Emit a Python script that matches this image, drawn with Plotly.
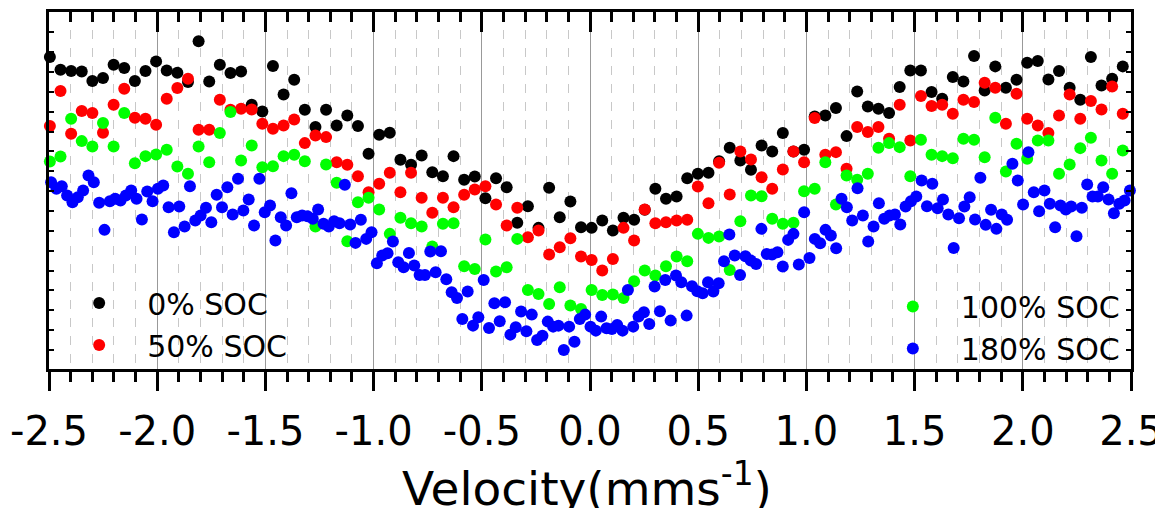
import numpy as np
import plotly.graph_objects as go

# ---- data (relative transmission, arbitrary units) ----
SOC0 = [965, 1060, 1022, 1018, 1017, 988, 997, 1037, 1027, 988,
        1018, 1047, 1020, 1013, 985, 1107, 987, 1037, 1012, 1017,
        917, 897, 1033, 948, 992, 902, 850, 902, 855, 885,
        853, 770, 827, 833, 752, 737, 765, 715, 703, 763,
        692, 702, 637, 697, 670, 563, 613, 548, 668, 580,
        627, 550, 548, 570, 540, 578, 572, 602, 665, 635,
        642, 697, 710, 713, 748, 788, 750, 722, 795, 777,
        832, 777, 782, 882, 885, 907, 823, 957, 912, 905,
        892, 970, 1020, 1020, 955, 935, 1000, 987, 1063, 960,
        1032, 968, 992, 1043, 1048, 993, 1018, 968, 932, 1060,
        975, 995, 1032, 968]

SOC50 = [948, 853, 958, 830, 898, 892, 833, 917, 965, 878,
         875, 857, 935, 967, 995, 842, 842, 932, 902, 905,
         903, 860, 845, 855, 873, 802, 825, 820, 745, 737,
         703, 655, 680, 713, 655, 713, 638, 593, 638, 610,
         647, 663, 673, 618, 555, 608, 520, 540, 468, 490,
         517, 462, 452, 420, 455, 548, 510, 603, 562, 565,
         570, 572, 672, 622, 743, 648, 777, 753, 700, 665,
         723, 777, 745, 877, 767, 775, 725, 850, 835, 850,
         815, 917, 810, 943, 913, 917, 890, 932, 925, 983,
         968, 860, 950, 875, 855, 832, 885, 948, 875, 928,
         903, 972, 890, 930]

SOC100 = [678, 747, 762, 875, 808, 792, 862, 792, 892, 742,
          763, 768, 782, 732, 710, 792, 745, 832, 895, 750,
          795, 730, 733, 763, 767, 748, 552, 738, 683, 508,
          625, 638, 603, 530, 578, 562, 552, 492, 560, 562,
          433, 425, 513, 417, 430, 515, 362, 350, 320, 370,
          315, 305, 362, 347, 348, 338, 388, 420, 405, 433,
          462, 448, 530, 518, 522, 422, 568, 645, 643, 575,
          560, 563, 658, 665, 745, 618, 705, 692, 710, 788,
          802, 790, 703, 812, 767, 763, 757, 815, 812, 760,
          878, 717, 800, 755, 810, 810, 710, 738, 787, 818,
          750, 710, 780, 720]

SOC180 = [610, 685, 665, 673, 645, 625, 640, 660, 705, 685,
          623, 542, 628, 635, 630, 645, 660, 635, 573, 657,
          628, 665, 675, 610, 535, 612, 552, 673, 570, 585,
          608, 565, 647,
          610, 670, 588, 695, 600, 633, 555, 695, 595, 615,
          510, 580, 555, 652, 580, 585, 583, 575, 603, 560,
          552, 568, 562, 677, 558, 503, 572, 515, 535, 442,
          465, 472, 507, 445,
          430, 473, 435, 407, 407, 477, 415, 478, 394, 355,
          338, 275, 357, 255, 280, 392, 248, 322, 268, 325,
          228, 250, 297, 238, 288, 212, 225, 267, 252, 255,
          182, 252, 207, 275,
          288, 252, 240, 282, 247, 245, 257, 240, 362, 252,
          282, 295, 260, 372, 298, 392, 270, 405, 385, 285,
          373, 358, 352, 385, 357, 382, 448, 528, 465, 407,
          463, 450, 440, 545,
          470, 468, 475, 432, 512, 530, 438, 595, 458, 515,
          502, 542, 525, 487, 635, 610, 570, 667, 585, 507,
          552, 622, 575, 585, 588, 558, 612, 628, 642, 690,
          613, 680, 607, 633,
          588, 488, 577, 612, 640, 573, 698, 557, 602, 545,
          588, 572, 740, 690, 618, 775, 655, 598, 660, 620,
          550, 615, 603, 612, 523, 608, 678, 642, 642, 670,
          633, 592, 620, 630, 660]

# velocity channel grids (mm/s)
V_START_A, V_STOP_A = -2.545, 2.511   # 0%, 50%, 100% SOC
V_START_B, V_STOP_B = -2.515, 2.495   # 180% SOC

TICK_VALS = [-2.5, -2.0, -1.5, -1.0, -0.5, 0.0, 0.5, 1.0, 1.5, 2.0, 2.5]
TICK_TEXT = ["-2.5", "-2.0", "-1.5", "-1.0", "-0.5", "0.0", "0.5", "1.0", "1.5", "2.0", "2.5"]
X_TITLE = "Velocity(mms<sup>-1</sup>)"

NAMES = ["0% SOC", "50% SOC", "100% SOC", "180% SOC"]
COLORS = ["#000000", "#ff0000", "#00ff00", "#0000ff"]

series = [SOC0, SOC50, SOC100, SOC180]
grids = [(V_START_A, V_STOP_A)] * 3 + [(V_START_B, V_STOP_B)]
legends = ["legend", "legend", "legend2", "legend2"]

fig = go.Figure()
for vals, (a, b), name, col, lg in zip(series, grids, NAMES, COLORS, legends):
    xs = np.linspace(a, b, len(vals))
    fig.add_trace(go.Scatter(
        x=xs, y=vals, mode="markers", name=name, legend=lg,
        marker=dict(color=col, size=12, line=dict(width=0)),
        cliponaxis=False, hoverinfo="skip"))

# invisible trace to carry the top (mirrored) axis
fig.add_trace(go.Scatter(x=[0], y=[600], xaxis="x2", mode="markers",
                         marker=dict(opacity=0), showlegend=False, hoverinfo="skip"))

TICK_FONT = dict(family="DejaVu Sans", size=40, color="black")
LEG_FONT = dict(family="DejaVu Sans", size=30, color="black")

fig.update_layout(
    width=1155, height=500,
    margin=dict(l=41, r=32, t=4, b=139),
    paper_bgcolor="white", plot_bgcolor="white",
    font=dict(family="DejaVu Sans", color="black"),
    xaxis=dict(
        range=[-2.5, 2.5], tickmode="array", tickvals=TICK_VALS, ticktext=TICK_TEXT,
        ticks="outside", ticklen=19, tickwidth=3, tickcolor="black",
        ticklabelstandoff=6,
        showline=True, linewidth=3, linecolor="black", mirror=True,
        showgrid=True, gridcolor="#999999", gridwidth=1.3, zeroline=False,
        minor=dict(tick0=-2.5, dtick=0.1, ticks="outside", ticklen=10, tickwidth=3,
                   tickcolor="black", showgrid=True, gridcolor="#c8c8c8",
                   griddash="dash", gridwidth=1),
        tickfont=TICK_FONT, automargin=False,
    ),
    xaxis2=dict(
        overlaying="x", side="top", anchor="y", range=[-2.5, 2.5],
        tickmode="array", tickvals=TICK_VALS, showticklabels=False,
        ticks="inside", ticklen=20, tickwidth=3, tickcolor="black",
        minor=dict(tick0=-2.5, dtick=0.1, ticks="inside", ticklen=10, tickwidth=3,
                   tickcolor="black", showgrid=False),
        showgrid=False, zeroline=False, showline=False, automargin=False,
    ),
    yaxis=dict(
        range=[125, 1195], showticklabels=False, tick0=182, dtick=59.5,
        ticks="inside", ticklen=5, tickwidth=2, tickcolor="black",
        showline=True, linewidth=3, linecolor="black", mirror="ticks",
        showgrid=False, zeroline=False, automargin=False,
    ),
    legend=dict(x=0.002, y=0.258, xanchor="left", yanchor="top",
                bgcolor="rgba(0,0,0,0)", itemwidth=86, font=LEG_FONT),
    legend2=dict(x=0.754, y=0.248, xanchor="left", yanchor="top",
                 bgcolor="rgba(0,0,0,0)", itemwidth=86, font=LEG_FONT),
    showlegend=True,
    annotations=[dict(text=X_TITLE, xref="paper", yref="paper", x=0.497, y=-0.232,
                      xanchor="center", yanchor="top", showarrow=False,
                      font=dict(family="DejaVu Sans", size=47, color="black"))],
)

fig.write_html("out.html")
